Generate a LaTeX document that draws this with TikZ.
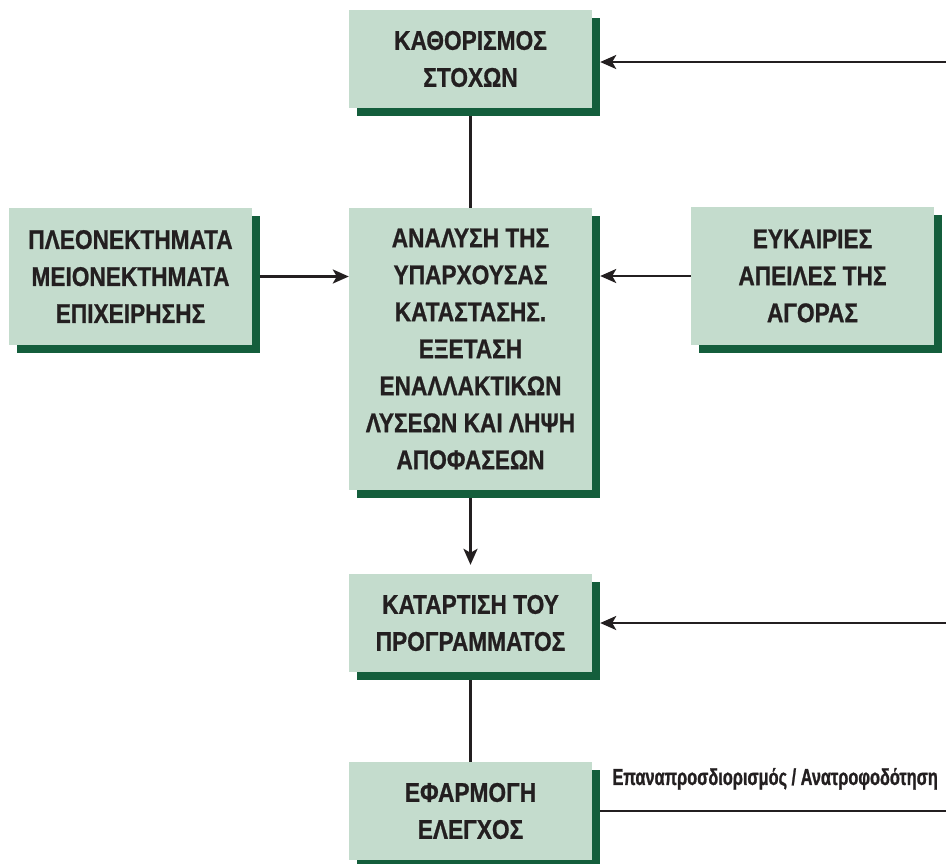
\documentclass[tikz,border=0pt]{standalone}
\usepackage{fontspec}
\usetikzlibrary{arrows.meta,calc}
\newfontfamily\boxfont[FakeStretch=0.84, FakeBold=0.8]{Liberation Sans}
\newfontfamily\notefont[FakeStretch=0.71, FakeBold=1]{Liberation Sans}
\definecolor{boxfill}{RGB}{196,220,205}
\definecolor{boxshadow}{RGB}{20,94,60}
\definecolor{ink}{RGB}{35,31,32}
\tikzset{
  stage/.style={rectangle, fill=boxfill, minimum width=243pt, inner sep=0pt,
    align=center, text=ink, font=\boxfont\bfseries\fontsize{27}{37}\selectfont,
    preaction={fill=boxshadow, transform canvas={shift={(8pt,-8pt)}}}},
  link/.style={draw=ink, line width=2.6pt},
  arr/.style={link, -{Stealth[length=16pt,width=14pt,inset=4pt]}},
}
\begin{document}
\begin{tikzpicture}[x=1pt,y=-1pt]
  \useasboundingbox (0,0) rectangle (946,863);
  % stages of the planning cycle
  \node[stage, minimum height=98pt]  (goals)     at (470.5,59)  {ΚΑΘΟΡΙΣΜΟΣ\\ΣΤΟΧΩΝ};
  \node[stage, minimum height=282pt] (analysis)  at (470.5,349) {ΑΝΑΛΥΣΗ ΤΗΣ\\ΥΠΑΡΧΟΥΣΑΣ\\ΚΑΤΑΣΤΑΣΗΣ.\\ΕΞΕΤΑΣΗ\\ΕΝΑΛΛΑΚΤΙΚΩΝ\\ΛΥΣΕΩΝ ΚΑΙ ΛΗΨΗ\\ΑΠΟΦΑΣΕΩΝ};
  \node[stage, minimum height=137pt] (strengths) at (130.5,276.5) {ΠΛΕΟΝΕΚΤΗΜΑΤΑ\\ΜΕΙΟΝΕΚΤΗΜΑΤΑ\\ΕΠΙΧΕΙΡΗΣΗΣ};
  \node[stage, minimum height=138pt] (market)    at (812.5,276) {ΕΥΚΑΙΡΙΕΣ\\ΑΠΕΙΛΕΣ ΤΗΣ\\ΑΓΟΡΑΣ};
  \node[stage, minimum height=98pt]  (program)   at (470.5,623) {ΚΑΤΑΡΤΙΣΗ ΤΟΥ\\ΠΡΟΓΡΑΜΜΑΤΟΣ};
  \node[stage, minimum height=98pt]  (apply)     at (470.5,811) {ΕΦΑΡΜΟΓΗ\\ΕΛΕΓΧΟΣ};

  % free ends of the feedback lines at the right margin
  \coordinate (fbGoals)   at (946,62);
  \coordinate (fbProgram) at (946,623);
  \coordinate (fbApply)   at (946,811);

  % connectors
  \draw[link] ([yshift=-8pt]goals.south) -- (analysis.north);
  \draw[arr] ([xshift=8pt]strengths.east) -- (analysis.west |- strengths.east);
  \draw[arr] (market.west) -- ([xshift=8pt]analysis.east |- market.west);
  \draw[arr] ([yshift=-8pt]analysis.south) -- ([yshift=9pt]program.north);
  \draw[link] ([yshift=-8pt]program.south) -- (apply.north);
  \draw[arr] (fbGoals) -- ([xshift=8pt]goals.east |- fbGoals);
  \draw[arr] (fbProgram) -- ([xshift=8pt]program.east |- fbProgram);
  \draw[link] ([xshift=8pt]apply.east |- fbApply) -- (fbApply)
    node[pos=0, anchor=south west, inner sep=0pt, xshift=11pt, yshift=20pt, text=ink,
         font=\notefont\bfseries\fontsize{23}{25}\selectfont] (note)
    {Επαναπροσδιορισμός / Ανατροφοδότηση};
\end{tikzpicture}
\end{document}
